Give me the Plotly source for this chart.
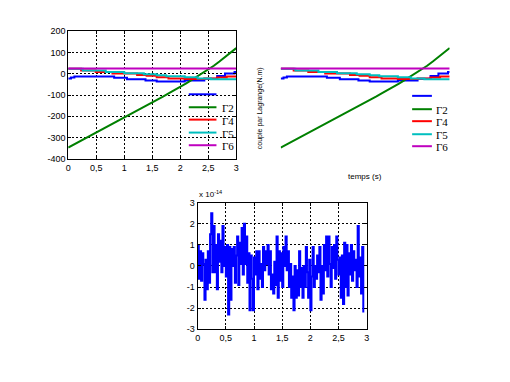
import plotly.graph_objects as go

W, H = 510, 382

# ---------------- data ----------------
t_green = [0.0, 0.1, 0.2, 0.3, 0.4, 0.5, 0.6, 0.7, 0.8, 0.9, 1.0, 1.1, 1.2, 1.3, 1.4, 1.5,
           1.6, 1.7, 1.8, 1.9, 2.0, 2.1, 2.2, 2.3, 2.4, 2.5, 2.6, 2.7, 2.8, 2.9, 3.0]
gamma2 = [-347, -333, -319, -305, -291, -277, -263, -249, -235, -221, -206, -192, -178, -163,
          -149, -135, -120, -106, -91, -77, -62, -46, -30, -14, 2, 19, 38, 58, 79, 100, 121]

t_blue = [0, 0.05, 0.11, 0.82, 1.05, 1.38, 1.58, 2.08, 2.43, 2.66, 2.8, 2.97, 3.0]
gamma1 = [-22, -17, -13, -19, -25, -31, -36, -31, -23, -10, 2, 8, 8]

t_red = [0, 0.23, 0.49, 0.79, 1.23, 1.4, 1.58, 1.79, 2.08, 2.43, 2.66, 2.83, 3.0]
gamma4 = [24, 16, 8, 2, -5, -9, -16, -22, -24, -22, -17, -13, -13]

t_cyan = [0, 0.26, 0.67, 1.0, 1.35, 1.58, 1.75, 2.08, 2.31, 2.55, 3.0]
gamma5 = [24, 16, 8, 3, -2, -7, -11, -16, -22, -26, -26]

t_mag = [0, 3.0]
gamma6 = [25, 25]

names = ["", "\u03932", "\u03934", "\u03935", "\u03936"]
colors = ["#0000FF", "#008000", "#FF0000", "#00BFBF", "#BF00BF"]

# residual signal (x 1e-14), sampled every 0.02 s
t_res = [round(0.02 * i, 2) for i in range(148)]
residual = [
    1.0, -0.6, 0.7, -0.7, 0.6, 0.1, -1.6, 0.3, -1.1, 0.7,
    -0.8, 1.5, 2.5, -0.3, 1.9, -0.3, 1.0, -1.1, 1.5, 0.2,
    1.2, -0.3, 1.9, 0.0, 0.9, -0.5, 1.0, -2.3, 0.9, -1.6,
    0.8, 0.0, 0.9, -0.8, 0.5, 1.4, -0.9, 1.1, 0.1, 1.8,
    -0.4, 2.0, 0.1, 1.4, -0.8, 0.6, -2.1, 0.5, -0.6, -2.1,
    0.4, -0.4, 0.7, -1.1, 0.7, -0.6, 0.1, -1.0, 0.9, -0.2,
    0.7, 0.1, 1.0, -0.4, 0.7, -1.1, -0.4, -1.3, 0.2, -0.9,
    1.4, -1.5, 0.7, -0.7, 0.6, -1.0, 0.9, 0.0, 1.4, -0.2,
    0.7, -1.0, 0.1, -1.5, -0.5, -2.1, 0.0, -1.5, -0.2, -1.4,
    0.7, -1.0, -0.1, -1.5, 0.0, -1.0, 0.9, -0.3, -1.5, 0.3,
    -2.1, -0.5, 0.9, -1.0, 0.0, -0.6, 0.5, -0.3, 0.9, -1.6,
    0.0, -1.3, 1.0, -0.2, 1.4, -0.5, 1.4, 0.1, -1.0, 0.9,
    -0.1, 1.0, -0.6, 1.4, 0.3, -0.4, 0.4, -1.5, 0.5, -1.8,
    1.1, -1.0, 1.0, -1.4, 0.6, -0.4, 1.0, -0.7, 0.7, -0.2,
    0.3, -1.0, 1.9, -0.5, 0.4, -1.3, 0.9, -2.2,
]

x_ticks = [0, 0.5, 1, 1.5, 2, 2.5, 3]
x_ticktext = ["0", "0,5", "1", "1,5", "2", "2,5", "3"]
y1_ticks = [200, 100, 0, -100, -200, -300, -400]
y1_ticktext = ["200", "100", "0", "-100", "-200", "-300", "-400"]
y3_ticks = [3, 2, 1, 0, -1, -2, -3]
y3_ticktext = ["3", "2", "1", "0", "-1", "-2", "-3"]

series = [
    (t_blue, gamma1, "hv"),
    (t_green, gamma2, "linear"),
    (t_red, gamma4, "hv"),
    (t_cyan, gamma5, "hv"),
    (t_mag, gamma6, "hv"),
]

# --------------- layout helpers ---------------
def px(x):
    return x / W

def py(y):
    return 1 - y / H

fig = go.Figure()

for xa, ya in [("x", "y"), ("x2", "y2")]:
    for (tx, ty, shape), c in zip(series, colors):
        fig.add_trace(go.Scatter(x=tx, y=ty, mode="lines", line=dict(color=c, width=2, shape=shape),
                                 xaxis=xa, yaxis=ya, showlegend=False, hoverinfo="skip"))

fig.add_trace(go.Scatter(x=t_res, y=residual, mode="lines",
                         line=dict(color="#0000FF", width=2, shape="hv"),
                         xaxis="x3", yaxis="y3", showlegend=False, hoverinfo="skip"))

tickfont = dict(family="Liberation Sans, Arial, sans-serif", size=9, color="black")
boxed = dict(showline=True, linecolor="black", linewidth=1, mirror="ticks",
             ticks="inside", ticklen=3, tickcolor="black", tickfont=tickfont,
             showgrid=True, gridcolor="black", gridwidth=1, griddash="2px,2px",
             zeroline=False)

fig.update_layout(
    width=W, height=H, autosize=False,
    margin=dict(l=0, r=0, t=0, b=0),
    paper_bgcolor="white", plot_bgcolor="white",
    xaxis=dict(domain=[px(66), px(236)], range=[0, 3], tickvals=x_ticks, ticktext=x_ticktext,
               anchor="y", **boxed),
    yaxis=dict(domain=[py(158), py(27)], range=[-400, 200], tickvals=y1_ticks, ticktext=y1_ticktext,
               anchor="x", **boxed),
    xaxis2=dict(domain=[px(281), px(452)], range=[0, 3], visible=False, anchor="y2"),
    yaxis2=dict(domain=[py(158), py(27)], range=[-400, 200], visible=False, anchor="x2"),
    xaxis3=dict(domain=[px(197), px(368)], range=[0, 3], tickvals=x_ticks, ticktext=x_ticktext,
                anchor="y3", **boxed),
    yaxis3=dict(domain=[py(333), py(203)], range=[-3, 3], tickvals=y3_ticks, ticktext=y3_ticktext,
                anchor="x3", **boxed),
)

shapes = []
annotations = []
serif = dict(family="Liberation Serif, Times New Roman, serif", size=11, color="black")

legend_specs = [
    dict(x0=188, x1=216, tx=220, rows=[91.7, 105, 117.7, 131, 144]),
    dict(x0=414, x1=434, tx=436, rows=[93.3, 107, 119.3, 132.7, 145]),
]
for spec in legend_specs:
    for name, c, ry in zip(names, colors, spec["rows"]):
        shapes.append(dict(type="line", xref="paper", yref="paper",
                           x0=px(spec["x0"]), x1=px(spec["x1"]), y0=py(ry), y1=py(ry),
                           line=dict(color=c, width=2)))
        if name:
            annotations.append(dict(text=name, xref="paper", yref="paper",
                                    x=px(spec["tx"]), y=py(ry + 1), xanchor="left", yanchor="middle",
                                    showarrow=False, font=serif))

small = dict(family="Liberation Sans, Arial, sans-serif", size=8, color="black")
annotations.append(dict(text="couple par Lagrange(N.m)", textangle=-90, xref="paper", yref="paper",
                        x=px(260), y=py(106), xanchor="center", yanchor="middle",
                        showarrow=False, font=dict(family="Liberation Sans, Arial, sans-serif", size=7, color="black")))
annotations.append(dict(text="temps (s)", xref="paper", yref="paper",
                        x=px(366.5), y=py(176.5), xanchor="center", yanchor="middle",
                        showarrow=False, font=small))
annotations.append(dict(text="x 10<sup>-14</sup>", xref="paper", yref="paper",
                        x=px(196), y=py(201), xanchor="left", yanchor="bottom",
                        showarrow=False, font=small))

fig.update_layout(shapes=shapes, annotations=annotations)

fig.write_html("out.html", config={"displayModeBar": False},
               post_script="document.body.style.margin='0';document.body.style.padding='0';document.body.style.overflow='hidden';")
